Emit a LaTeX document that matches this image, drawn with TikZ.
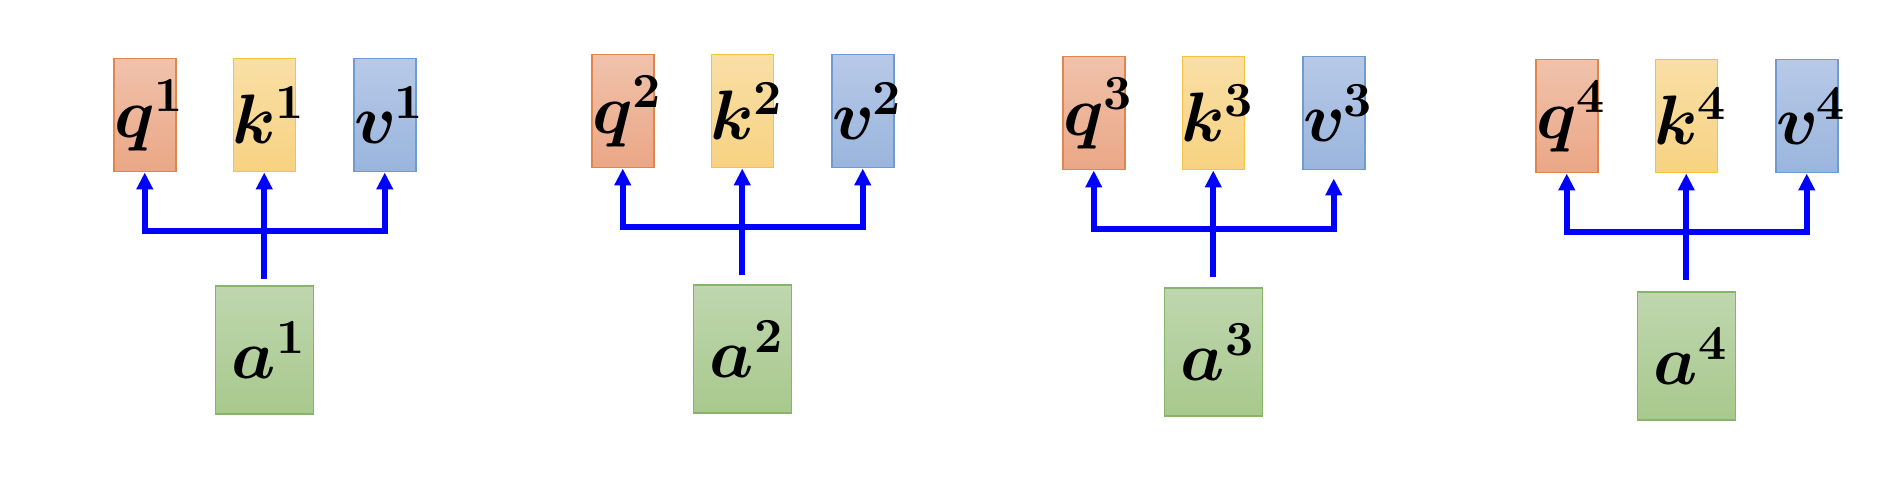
\documentclass[tikz,border=0pt]{standalone}
\usepackage{amsmath}
\usepackage{unicode-math}
\setmathfont{Latin Modern Math}
\usepackage{tikz}
\usetikzlibrary{arrows.meta,positioning,calc}
\definecolor{qtop}{HTML}{F0C2AB}\definecolor{qbot}{HTML}{EAA786}\definecolor{qline}{HTML}{E0864C}
\definecolor{ktop}{HTML}{F9DFA6}\definecolor{kbot}{HTML}{F7D281}\definecolor{kline}{HTML}{F6C244}
\definecolor{vtop}{HTML}{B7C9E7}\definecolor{vbot}{HTML}{9AB5DD}\definecolor{vline}{HTML}{6F9BD0}
\definecolor{atop}{HTML}{BFD6AE}\definecolor{abot}{HTML}{A8C98D}\definecolor{aline}{HTML}{86B46A}
\newcommand{\boxlbl}[2]{\makebox[0pt]{\hspace*{8pt}$\symbfit{#1}^{\symbf{#2}}$}}
\tikzset{vecbox/.style={rectangle, inner sep=0pt, minimum width=62pt, minimum height=113pt, line width=1.5pt, font=\fontsize{70}{74}\selectfont},
	qbox/.style={vecbox, draw=qline, top color=qtop, bottom color=qbot},
	kbox/.style={vecbox, draw=kline, top color=ktop, bottom color=kbot},
	vbox/.style={vecbox, draw=vline, top color=vtop, bottom color=vbot},
	abox/.style={vecbox, minimum width=98pt, minimum height=128pt, draw=aline, top color=atop, bottom color=abot},
	link/.style={draw={rgb,255:red,0;green,0;blue,255}, line width=6pt, -{Triangle[width=16pt,length=17pt]}}}
\begin{document}
\begin{tikzpicture}[x=1pt,y=1pt]
		\useasboundingbox (0,0) rectangle (1904,502);
		\foreach \n/\qx/\qy/\ag/\g in {1/113/58/113/0, 2/591/54/116/0, 3/1062/56/117/8, 4/1535/59/118/0}{
			\node[qbox, anchor=north west] (q\n) at (\qx,502-\qy) {\boxlbl{q}{\n}};
			\node[kbox, right=56pt of q\n] (k\n) {\boxlbl{k}{\n}};
			\node[vbox, right=57pt of k\n] (v\n) {\boxlbl{v}{\n}};
			\node[abox, below=\ag pt of k\n] (a\n) {\boxlbl{a}{\n}};
			\coordinate (j\n) at ($(k\n.south)+(0,-59)$);
			\coordinate (s\n) at ($(k\n.south)+(0,-107)$);
			\draw[link] (s\n) -- (k\n.south);
			\draw[link] (j\n) -| (q\n.south);
			\draw[link, shorten >=\g pt] (j\n) -| (v\n.south);
		}
		\end{tikzpicture}
\end{document}
